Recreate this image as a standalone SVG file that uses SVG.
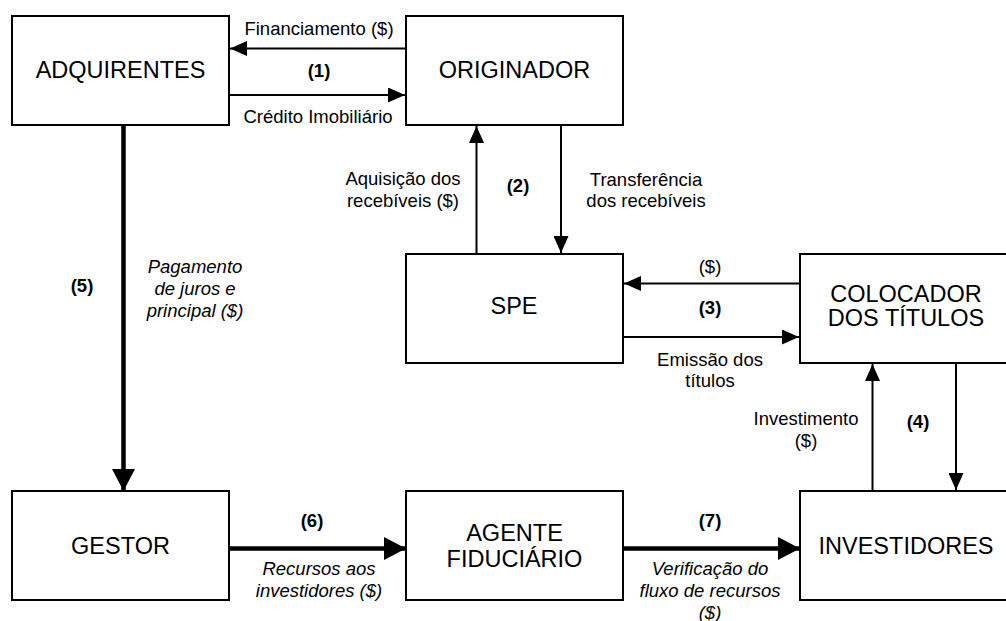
<svg xmlns="http://www.w3.org/2000/svg" width="1006" height="621" viewBox="0 0 1006 621">
  <style>
    .box { fill: #ffffff; stroke: #000000; stroke-width: 2; }
    .node { font-family: "Liberation Sans", Arial, sans-serif; font-size: 23.5px; fill: #000000; text-anchor: middle; }
    .lbl { font-family: "Liberation Sans", Arial, sans-serif; font-size: 18.5px; fill: #000000; text-anchor: middle; }
    .num { font-weight: bold; }
    .it { font-style: italic; }
    .thin { stroke: #000000; stroke-width: 2; fill: none; }
    .thick { stroke: #000000; stroke-width: 4.5; fill: none; }
  </style>
  <defs>
    <marker id="head" viewBox="0 0 17 15" refX="17" refY="7.5" markerWidth="17" markerHeight="15" markerUnits="userSpaceOnUse" orient="auto">
      <path d="M0,0 L17,7.5 L0,15 Z" fill="#000000"/>
    </marker>
    <marker id="headBig" viewBox="0 0 22 23" refX="22" refY="11.5" markerWidth="22" markerHeight="23" markerUnits="userSpaceOnUse" orient="auto">
      <path d="M0,0 L22,11.5 L0,23 Z" fill="#000000"/>
    </marker>
  </defs>

  <!-- connectors -->
  <g id="connectors">
    <line class="thin" x1="406" y1="48.5" x2="230" y2="48.5" marker-end="url(#head)"/>
    <line class="thin" x1="229" y1="95" x2="405" y2="95" marker-end="url(#head)"/>
    <line class="thin" x1="476.5" y1="254" x2="476.5" y2="126" marker-end="url(#head)"/>
    <line class="thin" x1="561" y1="125" x2="561" y2="253" marker-end="url(#head)"/>
    <line class="thin" x1="800" y1="283.5" x2="624" y2="283.5" marker-end="url(#head)"/>
    <line class="thin" x1="623" y1="337" x2="799" y2="337" marker-end="url(#head)"/>
    <line class="thin" x1="872.5" y1="491" x2="872.5" y2="364" marker-end="url(#head)"/>
    <line class="thin" x1="956" y1="363" x2="956" y2="490" marker-end="url(#head)"/>
    <line class="thick" x1="123.5" y1="126" x2="123.5" y2="491" marker-end="url(#headBig)"/>
    <line class="thick" x1="229" y1="548.5" x2="406" y2="548.5" marker-end="url(#headBig)"/>
    <line class="thick" x1="623" y1="548.5" x2="800" y2="548.5" marker-end="url(#headBig)"/>

    <text class="lbl" x="319" y="35">Financiamento ($)</text>
    <text class="lbl num" x="319" y="77">(1)</text>
    <text class="lbl" x="318" y="123">Crédito Imobiliário</text>

    <text class="lbl" x="403" y="185">Aquisição dos</text>
    <text class="lbl" x="403" y="207">recebíveis ($)</text>
    <text class="lbl num" x="518" y="192">(2)</text>
    <text class="lbl" x="646" y="186">Transferência</text>
    <text class="lbl" x="646" y="207">dos recebíveis</text>

    <text class="lbl" x="710" y="273">($)</text>
    <text class="lbl num" x="710" y="314">(3)</text>
    <text class="lbl" x="710" y="366">Emissão dos</text>
    <text class="lbl" x="710" y="387">títulos</text>

    <text class="lbl" x="806" y="425">Investimento</text>
    <text class="lbl" x="806" y="447">($)</text>
    <text class="lbl num" x="918" y="428">(4)</text>

    <text class="lbl num" x="82" y="292">(5)</text>
    <text class="lbl it" x="195" y="273">Pagamento</text>
    <text class="lbl it" x="195" y="295">de juros e</text>
    <text class="lbl it" x="195" y="317">principal ($)</text>

    <text class="lbl num" x="312" y="527">(6)</text>
    <text class="lbl it" x="319" y="575">Recursos aos</text>
    <text class="lbl it" x="319" y="597">investidores ($)</text>

    <text class="lbl num" x="710" y="527">(7)</text>
    <text class="lbl it" x="710" y="575">Verificação do</text>
    <text class="lbl it" x="710" y="597">fluxo de recursos</text>
    <text class="lbl it" x="710" y="619">($)</text>
  </g>

  <!-- nodes -->
  <g id="adquirentes">
    <rect class="box" x="12" y="16" width="217" height="109"/>
    <text class="node" x="120.5" y="78">ADQUIRENTES</text>
  </g>
  <g id="originador">
    <rect class="box" x="406" y="16" width="217" height="109"/>
    <text class="node" x="514.5" y="78">ORIGINADOR</text>
  </g>
  <g id="spe">
    <rect class="box" x="406" y="254" width="217" height="109"/>
    <text class="node" x="514" y="314">SPE</text>
  </g>
  <g id="colocador">
    <rect class="box" x="800" y="254" width="217" height="109"/>
    <text class="node" x="906" y="302">COLOCADOR</text>
    <text class="node" x="906" y="326">DOS TÍTULOS</text>
  </g>
  <g id="gestor">
    <rect class="box" x="12" y="491" width="217" height="109"/>
    <text class="node" x="120.5" y="554">GESTOR</text>
  </g>
  <g id="agente-fiduciario">
    <rect class="box" x="406" y="491" width="217" height="109"/>
    <text class="node" x="514.5" y="541">AGENTE</text>
    <text class="node" x="514.5" y="567">FIDUCIÁRIO</text>
  </g>
  <g id="investidores">
    <rect class="box" x="800" y="491" width="217" height="109"/>
    <text class="node" x="906" y="554">INVESTIDORES</text>
  </g>
</svg>
